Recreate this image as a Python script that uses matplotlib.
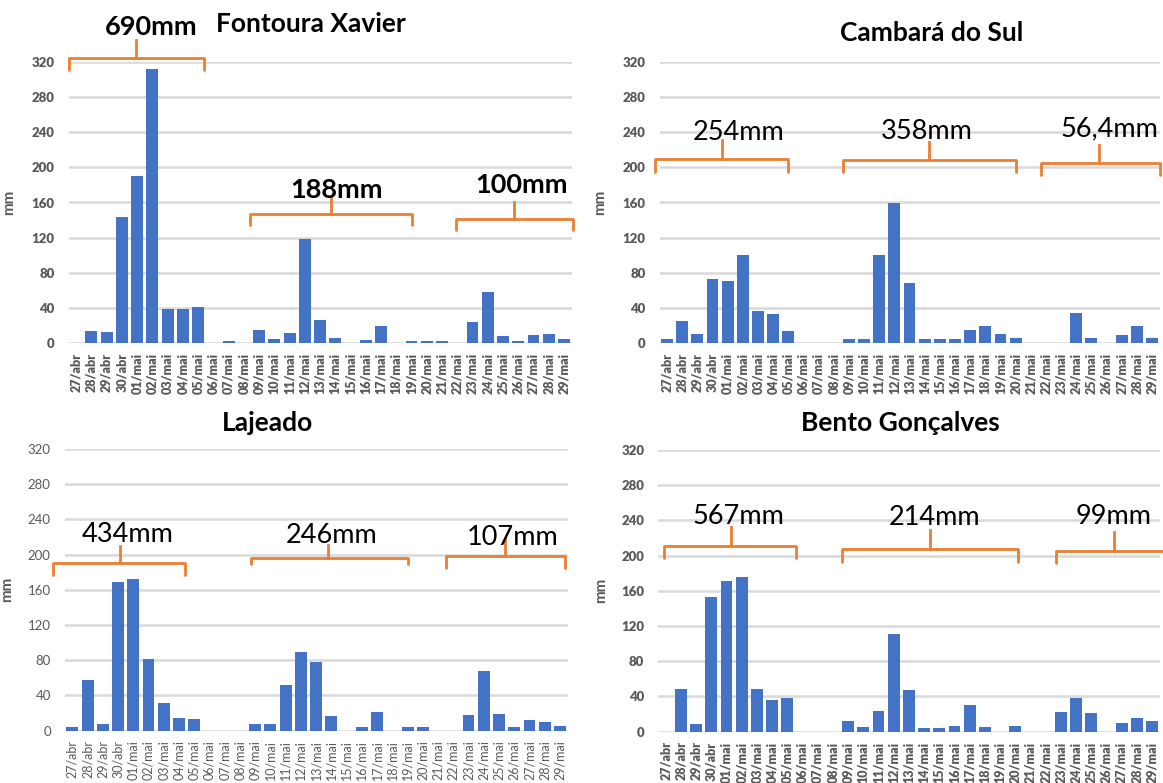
import matplotlib.pyplot as plt

plt.rcParams['font.family'] = ['Lato', 'DejaVu Sans']

dias = ['27/abr', '28/abr', '29/abr', '30/abr',
        '01/mai', '02/mai', '03/mai', '04/mai', '05/mai', '06/mai', '07/mai',
        '08/mai', '09/mai', '10/mai', '11/mai', '12/mai', '13/mai', '14/mai',
        '15/mai', '16/mai', '17/mai', '18/mai', '19/mai', '20/mai', '21/mai',
        '22/mai', '23/mai', '24/mai', '25/mai', '26/mai', '27/mai', '28/mai',
        '29/mai']

# chuva diaria (mm)
fontoura = [0, 14, 13, 143, 190, 312, 39, 39, 41, 0, 3, 0, 15, 5, 12, 118, 26,
            6, 0, 4, 20, 0, 3, 3, 3, 0, 24, 58, 8, 3, 10, 11, 5]
cambara = [4.5, 25, 11, 73, 71, 100, 37, 33, 14, 0, 0, 0, 5, 4.5, 100, 159, 68,
           5, 4.5, 4.5, 15.5, 20, 11, 6.5, 0, 0, 0, 34, 6.5, 0, 10, 20, 5.5]
lajeado = [4, 58, 8, 169, 172, 82, 31, 14, 13, 0, 0, 0, 8, 8, 52, 89, 78, 17,
           0, 4, 21.5, 0, 4, 4, 0, 0, 18, 68, 19, 4, 12, 10, 5]
bento = [0, 48, 9, 153, 171, 176, 48, 36, 38, 0, 0, 0, 12.5, 5, 23, 111, 47, 4,
         4, 6.5, 30, 5, 0, 6.5, 0, 0, 22, 38, 21, 0, 10, 16, 12]

niveis = [0, 40, 80, 120, 160, 200, 240, 280, 320]

totais_fontoura = ['690mm', '188mm', '100mm']
totais_cambara = ['254mm', '358mm', '56,4mm']
totais_lajeado = ['434mm', '246mm', '107mm']
totais_bento = ['567mm', '214mm', '99mm']

AZUL = '#4472C4'
LARANJA = '#ED7D31'
CINZA = '#595959'
GRADE = '#D9D9D9'

fig = plt.figure(figsize=(11.63, 7.83), dpi=100)
W, H = 1163, 783


def eixo(x0, x1, y0, y1):
    # caixa em pixels -> fracao da figura
    return fig.add_axes([x0 / W, 1 - y1 / H, (x1 - x0) / W, (y1 - y0) / H])


def chave(ax, x0, x1, y, gancho, xm, topo, tx, ty, texto, peso, dir_ok=True):
    xs = [x0, x0, x1]
    ys = [y - gancho, y, y]
    if dir_ok:
        xs.append(x1)
        ys.append(y - gancho)
    ax.plot(xs, ys, color=LARANJA, lw=2.0, clip_on=False,
            solid_joinstyle='round', solid_capstyle='round')
    ax.plot([xm, xm], [y, topo], color=LARANJA, lw=2.0, clip_on=False)
    ax.text(tx, ty, texto, ha='center', va='center', fontsize=19.5,
            fontweight=peso, color='black', clip_on=False)


def painel(ax, valores, negrito):
    x = list(range(len(dias)))
    ax.bar(x, valores, width=0.78, color=AZUL, zorder=3)
    ax.set_xlim(-0.5, len(dias) - 0.5)
    ax.set_ylim(0, 320)
    peso = 'heavy' if negrito else 'normal'
    ax.set_yticks(niveis, labels=[str(v) for v in niveis], fontsize=9.5,
                  color=CINZA, fontweight=peso)
    ax.set_xticks(x, labels=dias, rotation=90, fontsize=9, color=CINZA,
                  fontweight=peso)
    ax.tick_params(axis='y', length=0, pad=10)
    ax.tick_params(axis='x', length=0, pad=7)
    ax.grid(axis='y', color=GRADE, lw=1.8, zorder=0)
    ax.set_axisbelow(True)
    for s in ax.spines.values():
        s.set_visible(False)
    ax.set_ylabel('mm', fontsize=11, color=CINZA, fontweight='bold')
    ax.set_facecolor('none')


def titulo(px, py, texto):
    fig.text(px / W, 1 - py / H, texto, ha='center', va='center',
             fontsize=19, fontweight='bold')


ax1 = eixo(68.5, 571.6, 61.7, 343.3)
painel(ax1, fontoura, True)
ax1.yaxis.set_label_coords(-52 / 503, 0.5)
chave(ax1, -0.5, 8.36, 324.6, 13.5, 3.95, 345, 4.9, 359, totais_fontoura[0], 'bold')
chave(ax1, 11.4, 22.0, 146.4, 12.4, 16.7, 166, 17.1, 174, totais_fontoura[1], 'bold')
chave(ax1, 24.9, 32.6, 141, 12.4, 28.7, 160.4, 29.2, 179.7, totais_fontoura[2], 'bold')
titulo(311, 24, 'Fontoura Xavier')

ax2 = eixo(659.5, 1159.6, 61.7, 343.3)
painel(ax2, cambara, True)
ax2.yaxis.set_label_coords(-52 / 500, 0.5)
chave(ax2, -0.8, 8.0, 209, 14.5, 3.6, 231, 4.7, 239, totais_cambara[0], 'normal')
chave(ax2, 11.6, 23.0, 208, 13.5, 17.3, 229, 17.1, 241, totais_cambara[1], 'normal')
chave(ax2, 24.7, 32.5, 204.5, 13.5, 28.5, 225, 29.2, 244, totais_cambara[2], 'normal')
titulo(932, 33, 'Cambará do Sul')

ax3 = eixo(64.7, 567.6, 449, 730.7)
painel(ax3, lajeado, False)
ax3.yaxis.set_label_coords(-51 / 503, 0.5)
chave(ax3, -1.26, 7.4, 190, 13, 3.1, 210, 3.6, 223, totais_lajeado[0], 'normal')
chave(ax3, 11.7, 22.0, 196.5, 7.5, 16.8, 211, 17.0, 222, totais_lajeado[1], 'normal')
chave(ax3, 24.5, 32.3, 198, 13, 28.4, 218, 28.9, 220, totais_lajeado[2], 'normal')
titulo(268, 423, 'Lajeado')

ax4 = eixo(658.2, 1159.6, 450, 731.7)
painel(ax4, bento, True)
ax4.yaxis.set_label_coords(-50 / 501, 0.5)
chave(ax4, -0.1, 8.6, 211, 13.5, 4.27, 232.5, 4.8, 245, totais_bento[0], 'normal')
chave(ax4, 11.6, 23.2, 208, 15, 17.4, 229, 17.7, 243, totais_bento[1], 'normal')
chave(ax4, 25.7, 33.4, 205, 13.4, 29.5, 227, 29.5, 245, totais_bento[2], 'normal',
      dir_ok=False)
titulo(900, 423, 'Bento Gonçalves')

fig.savefig('out.png', dpi=100)
